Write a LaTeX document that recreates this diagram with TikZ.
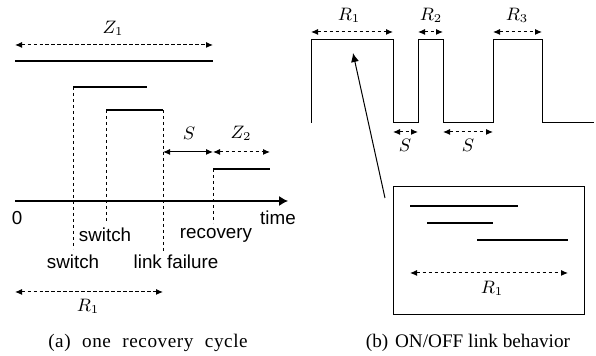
\documentclass[tikz,border=0pt]{standalone}
\usepackage{fontspec}
\setmainfont{Liberation Serif}
\setsansfont{Liberation Sans}
\usetikzlibrary{arrows.meta}
\begin{document}
\begin{tikzpicture}[x=0.5pt,y=-0.5pt,
  tipA/.tip={Latex[length=3.5pt,width=3pt]},
  span/.style={line width=0.5pt,dash pattern=on 1.6pt off 1.4pt,tipA-tipA},
  solidspan/.style={line width=0.5pt,tipA-tipA},
  bar/.style={line width=1.4pt},
  guide/.style={line width=0.45pt,dash pattern=on 1.6pt off 1.4pt},
  wave/.style={line width=0.5pt,line join=miter},
  lab/.style={font=\sffamily\fontsize{9.4}{10}\selectfont,inner sep=0pt},
  mlab/.style={font=\fontsize{9}{10}\selectfont,inner sep=0pt},
  capt/.style={font=\fontsize{9.6}{12}\selectfont,inner sep=0pt}]
\useasboundingbox (0,0) rectangle (596,356);

% ---------- (a) one recovery cycle ----------
\coordinate (z1a) at (15,45);  \coordinate (z1b) at (213,45);
\coordinate (b1a) at (15,61);  \coordinate (b1b) at (213,61);
\coordinate (b2a) at (73,87);  \coordinate (b2b) at (147,87);
\coordinate (b3a) at (106,110); \coordinate (b3b) at (163,110);
\coordinate (b4a) at (213,169); \coordinate (b4b) at (270,169);
\coordinate (g1) at (73,249);  \coordinate (g2) at (106,223);
\coordinate (g3) at (163,251); \coordinate (g4) at (213,223);
\coordinate (sa) at (163,152); \coordinate (sb) at (213,152);
\coordinate (z2b) at (270,152);
\coordinate (ax0) at (15,201); \coordinate (ax1) at (288,201);
\coordinate (r1a) at (15,292); \coordinate (r1b) at (163,292);

\draw[span] (z1a) -- (z1b);
\node[mlab] (Z1) at (113,28) {$Z_1$};
\draw[bar] (b1a) -- (b1b);
\draw[bar] (b2a) -- (b2b);
\draw[bar] (b3a) -- (b3b);
\draw[bar] (b4a) -- (b4b);
\draw[guide] (b2a) -- (g1);
\draw[guide] (b3a) -- (g2);
\draw[guide] (b3b) -- (g3);
\draw[guide] (b4a) -- (g4);
\draw[solidspan] (sa) -- (sb);
\draw[span] (sb) -- (z2b);
\node[mlab] (S0) at (189,133) {$S$};
\node[mlab] (Z2) at (241,133) {$Z_2$};
\draw[line width=0.6pt,-{Latex[length=4.5pt,width=5pt]}] (ax0) -- (ax1);
\node[lab] (zero) at (17,218) {0};
\node[lab] (time) at (278,218) {time};
\node[lab] (sw1) at (105,235) {switch};
\node[lab] (rec) at (216,235) {recovery};
\node[lab] (sw2) at (73,262) {switch};
\node[lab] (lf) at (176,262) {link failure};
\draw[span] (r1a) -- (r1b);
\node[mlab] (R1a) at (88,306) {$R_1$};
\node[capt] (capa) at (148,343) {\addfontfeature{LetterSpace=3}(a)\hspace{3pt} one\hspace{3pt} recovery\hspace{3pt} cycle};

% ---------- (b) ON/OFF link behavior ----------
\coordinate (w0) at (311,123); \coordinate (w1) at (311,40);
\coordinate (w2) at (393,40);  \coordinate (w3) at (393,123);
\coordinate (w4) at (418,123); \coordinate (w5) at (418,40);
\coordinate (w6) at (443,40);  \coordinate (w7) at (443,123);
\coordinate (w8) at (493,123); \coordinate (w9) at (493,40);
\coordinate (w10) at (542,40); \coordinate (w11) at (542,123);
\coordinate (w12) at (594,123);
\draw[wave] (w0) -- (w1) -- (w2) -- (w3) -- (w4) -- (w5) -- (w6) -- (w7) -- (w8) -- (w9) -- (w10) -- (w11) -- (w12);

\coordinate (ra1) at (311,32); \coordinate (ra2) at (393,32);
\coordinate (rb1) at (418,32); \coordinate (rb2) at (443,32);
\coordinate (rc1) at (493,32); \coordinate (rc2) at (542,32);
\draw[span] (ra1) -- (ra2);
\draw[span] (rb1) -- (rb2);
\draw[span] (rc1) -- (rc2);
\node[mlab] (R1b) at (349,15) {$R_1$};
\node[mlab] (R2) at (431,15) {$R_2$};
\node[mlab] (R3) at (517,15) {$R_3$};

\coordinate (sa1) at (393,132); \coordinate (sa2) at (418,132);
\coordinate (sb1) at (443,132); \coordinate (sb2) at (493,132);
\draw[span] (sa1) -- (sa2);
\draw[span] (sb1) -- (sb2);
\node[mlab] (S1) at (405,145) {$S$};
\node[mlab] (S2) at (468,145) {$S$};

\node[draw,line width=0.5pt,minimum width=95.5pt,minimum height=64pt,inner sep=0pt,anchor=north west] (zoombox) at (393,186) {};
\coordinate (pt0) at (385,198); \coordinate (pt1) at (353,53);
\draw[line width=0.5pt,-{Latex[length=4.5pt,width=4pt]}] (pt0) -- (pt1);

\coordinate (ia1) at (410,206); \coordinate (ia2) at (518,206);
\coordinate (ib1) at (427,223); \coordinate (ib2) at (493,223);
\coordinate (ic1) at (477,240); \coordinate (ic2) at (568,240);
\draw[bar] (ia1) -- (ia2);
\draw[bar] (ib1) -- (ib2);
\draw[bar] (ic1) -- (ic2);
\coordinate (ir1) at (410,273); \coordinate (ir2) at (568,273);
\draw[span] (ir1) -- (ir2);
\node[mlab] (R1c) at (492,288) {$R_1$};
\node[capt] (capb) at (468,343) {(b)\hspace{1pt} ON/OFF link behavior};
\end{tikzpicture}
\end{document}
